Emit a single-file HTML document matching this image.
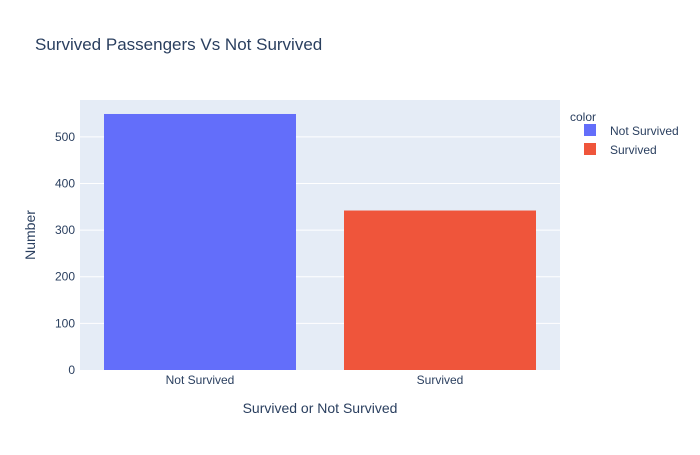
<!DOCTYPE html>
<html><head><meta charset="utf-8"><style>
body{margin:0;background:#fff;}
svg text{font-family:"Liberation Sans",sans-serif;fill:#2a3f5f;}
</style></head><body>
<svg id="chart" width="700" height="450" xmlns="http://www.w3.org/2000/svg">
<rect x="0" y="0" width="700" height="450" fill="#fff"/>
<rect x="80" y="100" width="480" height="270" fill="#e5ecf6"/>
<g id="grid"></g>
<g id="bars"></g>
<g id="yticks"></g>
<g id="xticks"></g>
<text x="35" y="50" font-size="17">Survived Passengers Vs Not Survived</text>
<text x="320" y="413" font-size="14" text-anchor="middle">Survived or Not Survived</text>
<text x="35" y="235" font-size="14" text-anchor="middle" transform="rotate(-90 35 235)">Number</text>
<g>
<text x="570" y="121" font-size="12">color</text>
<g>
<rect x="584" y="124" width="12" height="12" fill="#636efa"/>
<text x="610" y="135" font-size="12">Not Survived</text></g>
<g>
<rect x="584" y="143" width="12" height="12" fill="#ef553b"/>
<text x="610" y="154" font-size="12">Survived</text></g>
</g>
</svg>
<script>
const categories=["Not Survived","Survived"];
const values=[549,342];
const colors=["#636efa","#ef553b"];
const yTicks=[0,100,200,300,400,500];
const ns="http://www.w3.org/2000/svg";
const plotLeft=80,plotRight=560,plotTop=100,plotBottom=370,yMax=579;
const yScale=v=>plotBottom-(v/yMax)*(plotBottom-plotTop);
const band=(plotRight-plotLeft)/categories.length;
const xc=i=>plotLeft+band*(i+0.5);
function mk(tag,attrs,parent,txt){const e=document.createElementNS(ns,tag);for(const k in attrs)e.setAttribute(k,attrs[k]);if(txt!==undefined)e.textContent=txt;document.getElementById(parent).appendChild(e);return e;}
yTicks.forEach(t=>{
  if(t>0){const g=mk('line',{x1:plotLeft,x2:plotRight,y1:yScale(t),y2:yScale(t),stroke:'#fff','stroke-width':1},'grid');
  
  }
  const l=mk('text',{x:plotLeft-5,y:yScale(t)+4,'font-size':12,'text-anchor':'end'},'yticks',String(t));
  
  
});
categories.forEach((c,i)=>{
  const w=band*0.8;
  const b=mk('rect',{x:xc(i)-w/2,y:yScale(values[i]),width:w,height:plotBottom-yScale(values[i]),fill:colors[i]},'bars');
  
  
  const l=mk('text',{x:xc(i),y:plotBottom+14,'font-size':12,'text-anchor':'middle'},'xticks',c);
  
  
});
</script>
</body></html>
